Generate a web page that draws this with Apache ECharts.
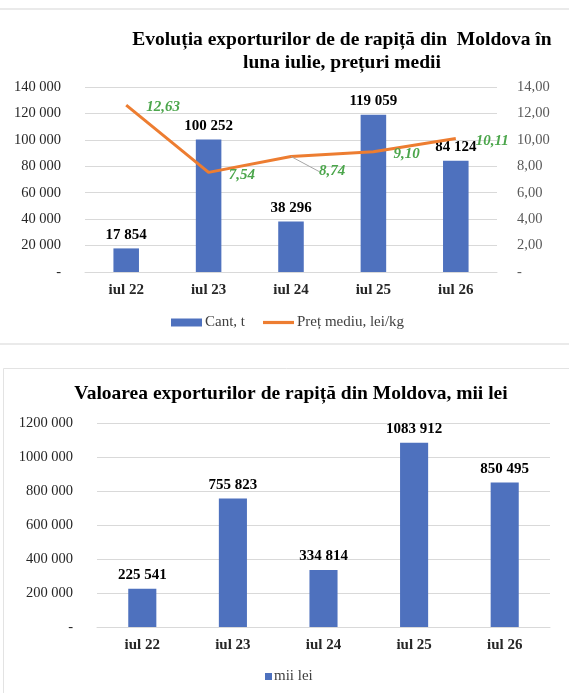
<!DOCTYPE html>
<html>
<head>
<meta charset="utf-8">
<script src="https://cdn.jsdelivr.net/npm/echarts@6/dist/echarts.min.js"></script>
<style>
  html, body { margin: 0; padding: 0; background: #fff; }
  #chart { width: 569px; height: 693px; }
</style>
</head>
<body>
<div id="chart"></div>
<script>
const categories = ['iul 22', 'iul 23', 'iul 24', 'iul 25', 'iul 26'];
const cantitate = [17854, 100252, 38296, 119059, 84124];
const pretMediu = [12.63, 7.54, 8.74, 9.10, 10.11];
const valoare = [225541, 755823, 334814, 1083912, 850495];

const FONT = '"Liberation Serif", "Times New Roman", serif';
const BLUE = '#4E71BE';
const ORANGE = '#ED7D31';
const GREEN = '#4CA64C';
const GRID_COLOR = '#D9D9D9';

// 17854 -> "17 854", 1200000 -> "1200 000"
function fmtThousands(v) {
  if (v === 0) return '-';
  const hi = Math.floor(v / 1000);
  const lo = String(v % 1000).padStart(3, '0');
  return hi + ' ' + lo;
}
function fmtPrice(v) {
  if (v === 0) return '-';
  return v.toFixed(2).replace('.', ',');
}

const chart = echarts.init(document.getElementById('chart'));

const axisLabelStyle = { fontFamily: FONT, fontSize: 14.5, color: '#262626' };
const catLabelStyle = { fontFamily: FONT, fontSize: 15, fontWeight: 'bold', color: '#262626' };
const barLabel = {
  show: true, position: 'top', distance: 6,
  fontFamily: FONT, fontSize: 15, fontWeight: 'bold', color: '#000',
  formatter: p => fmtThousands(p.value)
};

// only the iul 24 price label gets a leader line
const pretData = pretMediu.map((v, i) => i === 2
  ? { value: v, labelLine: { show: true, lineStyle: { color: '#A6A6A6', width: 1 } } }
  : v);

// small nudges of the price labels, per point
const labelShift = [[0, 2], [0, 3], [8, 15], [0, 2], [0, 3]];

const option = {
  animation: false,
  textStyle: { fontFamily: FONT },
  graphic: [
    { type: 'line', shape: { x1: 0, y1: 9, x2: 569, y2: 9 }, style: { stroke: '#E3E3E3', lineWidth: 1.5 } },
    { type: 'line', shape: { x1: 0, y1: 344, x2: 569, y2: 344 }, style: { stroke: '#E3E3E3', lineWidth: 1.5 } },
    { type: 'rect', shape: { x: 3.5, y: 368.5, width: 600, height: 400 }, style: { fill: 'none', stroke: '#E3E3E3', lineWidth: 1 } }
  ],
  title: [
    {
      text: 'Evoluția exporturilor de de rapiță din  Moldova în\nluna iulie, prețuri medii',
      left: 337, top: 23, textAlign: 'center',
      textStyle: { fontFamily: FONT, fontSize: 19.5, fontWeight: 'bold', color: '#000', lineHeight: 23 }
    },
    {
      text: 'Valoarea exporturilor de rapiță din Moldova, mii lei',
      left: 286, top: 379, textAlign: 'center',
      textStyle: { fontFamily: FONT, fontSize: 19.5, fontWeight: 'bold', color: '#000' }
    }
  ],
  legend: [
    {
      data: [
        { name: 'Cant, t', icon: 'rect' },
        { name: 'Preț mediu, lei/kg', icon: 'path://M0,0H31V3.2H0Z' }
      ],
      left: 171, top: 315, padding: 0, itemWidth: 31, itemHeight: 8, itemGap: 18,
      textStyle: { fontFamily: FONT, fontSize: 15, color: '#404040', padding: [0, 0, 0, -2] }
    },
    {
      data: [{ name: 'mii lei', icon: 'rect' }],
      left: 265, top: 669, padding: 0, itemWidth: 7, itemHeight: 7, itemGap: 4,
      textStyle: { fontFamily: FONT, fontSize: 15, color: '#404040', padding: [0, 0, 0, -3] }
    }
  ],
  grid: [
    { left: 85, right: 72, top: 87, height: 185 },
    { left: 97, right: 19, top: 423, height: 204 }
  ],
  xAxis: [
    {
      type: 'category', gridIndex: 0, data: categories,
      axisLine: { lineStyle: { color: GRID_COLOR } }, axisTick: { show: false },
      axisLabel: Object.assign({ margin: 11 }, catLabelStyle)
    },
    {
      type: 'category', gridIndex: 1, data: categories,
      axisLine: { lineStyle: { color: GRID_COLOR } }, axisTick: { show: false },
      axisLabel: Object.assign({ margin: 11 }, catLabelStyle)
    }
  ],
  yAxis: [
    {
      type: 'value', gridIndex: 0, min: 0, max: 140000, interval: 20000,
      splitLine: { lineStyle: { color: GRID_COLOR } },
      axisLabel: Object.assign({ margin: 24, formatter: fmtThousands }, axisLabelStyle)
    },
    {
      type: 'value', gridIndex: 0, position: 'right', min: 0, max: 14, interval: 2,
      splitLine: { show: false },
      axisLabel: Object.assign({ margin: 20, formatter: fmtPrice }, axisLabelStyle, { color: '#595959' })
    },
    {
      type: 'value', gridIndex: 1, min: 0, max: 1200000, interval: 200000,
      splitLine: { lineStyle: { color: GRID_COLOR } },
      axisLabel: Object.assign({ margin: 24, formatter: fmtThousands }, axisLabelStyle)
    }
  ],
  series: [
    {
      name: 'Cant, t', type: 'bar', xAxisIndex: 0, yAxisIndex: 0,
      data: cantitate, barWidth: '31%',
      itemStyle: { color: BLUE },
      label: barLabel
    },
    {
      name: 'Preț mediu, lei/kg', type: 'line', xAxisIndex: 0, yAxisIndex: 1,
      data: pretData, symbol: 'circle', symbolSize: 0.1, showSymbol: true,
      lineStyle: { color: ORANGE, width: 3 },
      itemStyle: { color: ORANGE },
      label: {
        show: true, position: 'right', distance: 20,
        fontFamily: FONT, fontSize: 15, fontWeight: 'bold', fontStyle: 'italic', color: GREEN,
        formatter: p => fmtPrice(p.value)
      },
      labelLine: { show: false },
      labelLayout: p => ({ dx: labelShift[p.dataIndex][0], dy: labelShift[p.dataIndex][1] }),
      z: 5
    },
    {
      name: 'mii lei', type: 'bar', xAxisIndex: 1, yAxisIndex: 2,
      data: valoare, barWidth: '31%',
      itemStyle: { color: BLUE },
      label: barLabel
    }
  ]
};

chart.setOption(option);
</script>
</body>
</html>
